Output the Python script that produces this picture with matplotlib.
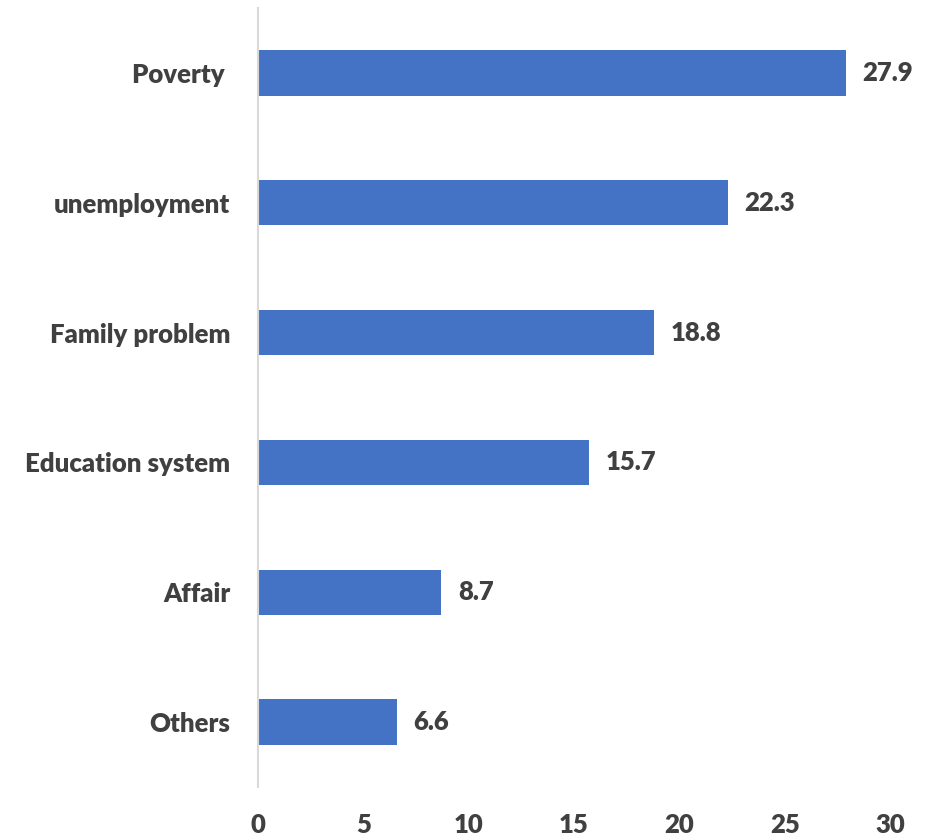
import matplotlib.pyplot as plt

causes = ["Others", "Affair", "Education system", "Family problem", "unemployment", "Poverty "]
percent = [6.6, 8.7, 15.7, 18.8, 22.3, 27.9]
xticks = [0, 5, 10, 15, 20, 25, 30]

TEXT = "#404040"
BAR = "#4472C4"
FS = 18.5

plt.rcParams['font.family'] = ['Lato', 'DejaVu Sans']
plt.rcParams['font.weight'] = 'bold'

fig = plt.figure(figsize=(9.36, 8.38), dpi=100)
ax = fig.add_axes([258 / 936, 1 - 787 / 838, 632 / 936, 779 / 838])

ypos = range(len(causes))
ax.barh(ypos, percent, height=0.35, color=BAR)

for y, v in zip(ypos, percent):
    ax.annotate(f"{v}", (v, y), xytext=(12, 0), textcoords="offset points",
                va="center", ha="left", fontsize=FS, fontweight="heavy", color=TEXT)

ax.set_xlim(0, 30)
ax.set_ylim(-0.5, len(causes) - 0.5)
ax.set_xticks(xticks)
ax.set_xticklabels([str(t) for t in xticks])
ax.set_yticks(list(ypos))
ax.set_yticklabels(causes)

for s in ["top", "right", "bottom"]:
    ax.spines[s].set_visible(False)
ax.spines["left"].set_color("#d9d9d9")
ax.spines["left"].set_linewidth(1.5)

ax.tick_params(axis="x", length=0, pad=19, labelsize=FS, labelcolor=TEXT)
ax.tick_params(axis="y", length=0, pad=20, labelsize=FS, labelcolor=TEXT)
for lbl in ax.get_xticklabels() + ax.get_yticklabels():
    lbl.set_fontweight("heavy")

fig.savefig("out.png", dpi=100)
